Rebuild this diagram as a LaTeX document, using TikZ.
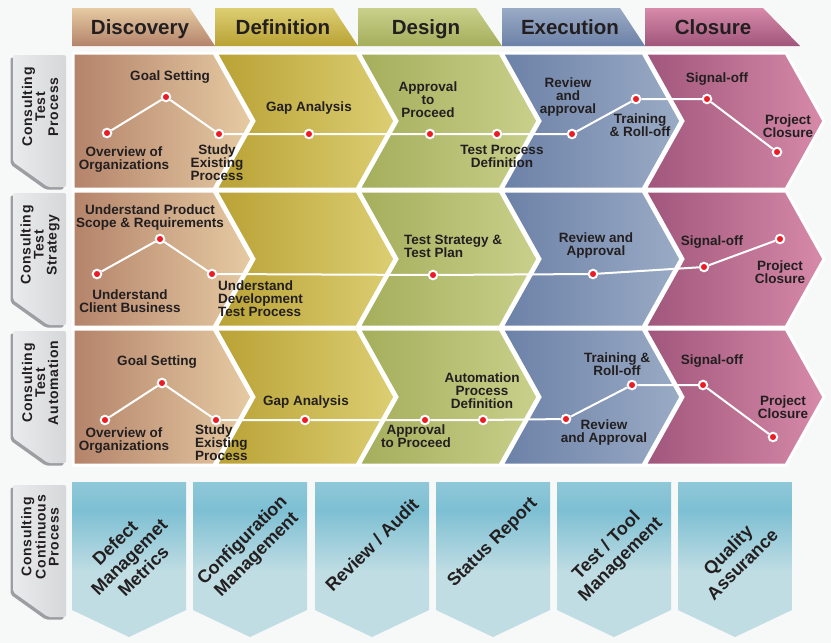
\documentclass[tikz,border=0pt]{standalone}
\usepackage{fontspec}
\setmainfont{Liberation Sans}
\usetikzlibrary{positioning,calc,backgrounds}

\definecolor{pagebg}{HTML}{F7F8F8}
\definecolor{ink}{HTML}{231F20}
\definecolor{dotred}{HTML}{ED1C24}
% phase colours, dark / light
\definecolor{discD}{HTML}{B4836A}
\definecolor{discL}{HTML}{E6CBA3}
\definecolor{defnD}{HTML}{B9A235}
\definecolor{defnL}{HTML}{DCCE72}
\definecolor{desgD}{HTML}{A4AE5B}
\definecolor{desgL}{HTML}{C9D08B}
\definecolor{execD}{HTML}{6C81A7}
\definecolor{execL}{HTML}{9AABC5}
\definecolor{closD}{HTML}{A0567B}
\definecolor{closL}{HTML}{D78AA9}
% side tabs and banners
\definecolor{tabL}{HTML}{EAEBEC}
\definecolor{tabD}{HTML}{D6D7D9}
\definecolor{tabS}{HTML}{9C9EA1}
\definecolor{bnlow}{HTML}{C0DDE3}
\definecolor{bnhigh}{HTML}{7DBFD3}
\definecolor{bntop}{HTML}{8FC8D8}

\pgfdeclareverticalshading{bannershade}{100bp}{color(0bp)=(bnlow); color(46bp)=(bnlow); color(66bp)=(bnhigh); color(75bp)=(bntop); color(100bp)=(bntop)}

\begin{document}
\begin{tikzpicture}[
	x=1pt, y=-1pt,
	phase/.style={
		font=\fontsize{20.5}{22}\selectfont\bfseries,
		text=ink,
		anchor=base,
	},
	chev/.style={
		draw=white,
		line width=3pt,
	},
	sidetab/.style={
		font=\fontsize{14}{13}\selectfont\bfseries\addfontfeatures{LetterSpace=5},
		text=ink,
		rotate=90,
		align=center,
	},
	dot/.style={
		circle,
		fill=dotred,
		draw=white,
		line width=2pt,
		inner sep=0pt,
		minimum size=8.5pt,
	},
	lbl/.style={
		font=\fontsize{13.5}{13}\selectfont\bfseries,
		text=ink,
		align=center,
		inner sep=0pt,
	},
	link/.style={white, line width=2pt},
	banner/.style={
		font=\fontsize{18}{20}\selectfont\bfseries,
		text=ink,
		rotate=45,
		align=center,
	},
]

\fill[pagebg] (0,0) rectangle (831,643);
\useasboundingbox (0,0) rectangle (831,643);

% Phase tabs
\foreach \x/\r/\dk/\lt/\name/\txt in {72/143/discD/discL/disc/Discovery,215/143/defnD/defnL/defn/Definition,358/144/desgD/desgL/desg/Design,502/143/execD/execL/exec/Execution,645/155/closD/closL/clos/Closure}{
	\shade[top color=\lt, bottom color=\dk] (\x,8) -- (\x+118,8) -- (\x+\r,46) -- (\x,46) -- cycle;
	\node[phase] (\name) at (\x+68,34) {\txt};
}

% Chevron rows
\foreach \top in {53,191,329}{
	\foreach \x/\dk/\lt [count=\i] in {73/discD/discL,216/defnD/defnL,359/desgD/desgL,502/execD/execL,645/closD/closL}{
		\pgfmathsetmacro\nd{\i==1 ? 0 : 38}
		\path[chev, left color=\dk, right color=\lt] (\x,\top) -- (\x+141,\top) -- (\x+179,\top+68) -- (\x+141,\top+136) -- (\x,\top+136) -- (\x+\nd,\top+68) -- cycle;
	}
}

% Side tabs
\foreach \top/\txt [count=\i] in {55/{Consulting\\Test\\Process},193/{Consulting\\Test\\Strategy},331/{Consulting\\Test\\Automation},485/{Consulting\\Continuous\\Process}}{
	\fill[tabS, rounded corners=2pt] (10.5,\top+2.5) -- (10.5,\top+109.5) -- (45.5,\top+134.5) -- (63.5,\top+134.5) -- (63.5,\top+2.5) -- cycle;
	\shade[left color=tabL, right color=tabD, rounded corners=2pt] (13,\top) -- (13,\top+107) -- (48,\top+132) -- (66,\top+132) -- (66,\top) -- cycle;
	\node[sidetab] (side\i) at (40,\top+52) {\txt};
}

% Row 1: test process
\node[dot] (tp1) at (107,133) {};
\node[dot] (tp2) at (166,97) {};
\node[dot] (tp3) at (219,134) {};
\node[dot] (tp4) at (309,134) {};
\node[dot] (tp5) at (430,134) {};
\node[dot] (tp6) at (497,134) {};
\node[dot] (tp7) at (572,134) {};
\node[dot] (tp8) at (636,99) {};
\node[dot] (tp9) at (707,99) {};
\node[dot] (tp10) at (777,152) {};
\node[lbl] (tp2t) at (170,77) {Goal Setting};
\node[lbl] (tp1t) at (124,160) {Overview of\\Organizations};
\node[lbl] (tp3t) at (217,163) {Study\\Existing\\Process};
\node[lbl] (tp4t) at (309,108) {Gap Analysis};
\node[lbl] (tp5t) at (428,100) {Approval\\to\\Proceed};
\node[lbl] (tp6t) at (502,156) {Test Process\\Definition};
\node[lbl] (tp7t) at (568,97) {Review\\and\\approval};
\node[lbl] (tp8t) at (640,125) {Training\\\& Roll-off};
\node[lbl] (tp9t) at (717,79) {Signal-off};
\node[lbl] (tp10t) at (788,126) {Project\\Closure};
\draw[link] (tp1) -- (tp2) -- (tp3) -- (tp4) -- (tp5) -- (tp6) -- (tp7) -- (tp8) -- (tp9) -- (tp10);

% Row 2: test strategy
\node[dot] (ts1) at (97,274) {};
\node[dot] (ts2) at (160,239) {};
\node[dot] (ts3) at (212,274) {};
\node[dot] (ts4) at (433,275) {};
\node[dot] (ts5) at (593,274) {};
\node[dot] (ts6) at (704,267) {};
\node[dot] (ts7) at (780,239) {};
\node[lbl] (ts2t) at (150,218) {Understand Product\\Scope \& Requirements};
\node[lbl] (ts1t) at (130,301) {Understand\\Client Business};
\node[lbl, anchor=west, align=left] (ts3t) at (218,299) {Understand\\Development\\Test Process};
\node[lbl, anchor=west, align=left] (ts4t) at (404,246) {Test Strategy \&\\Test Plan};
\node[lbl] (ts5t) at (596,246) {Review and\\Approval};
\node[lbl] (ts6t) at (712,242) {Signal-off};
\node[lbl] (ts7t) at (780,272) {Project\\Closure};
\draw[link] (ts1) -- (ts2) -- (ts3) -- (ts4) -- (ts5) -- (ts6) -- (ts7);

% Row 3: test automation
\node[dot] (ta1) at (105,420) {};
\node[dot] (ta2) at (162,383) {};
\node[dot] (ta3) at (216,420) {};
\node[dot] (ta4) at (305,420) {};
\node[dot] (ta5) at (425,420) {};
\node[dot] (ta6) at (483,420) {};
\node[dot] (ta7) at (566,419) {};
\node[dot] (ta8) at (632,385) {};
\node[dot] (ta9) at (703,385) {};
\node[dot] (ta10) at (773,437) {};
\node[lbl] (ta2t) at (157,362) {Goal Setting};
\node[lbl] (ta1t) at (124,441) {Overview of\\Organizations};
\node[lbl, anchor=west, align=left] (ta3t) at (195,443) {Study\\Existing\\Process};
\node[lbl] (ta4t) at (306,402) {Gap Analysis};
\node[lbl] (ta5t) at (416,436) {Approval\\to Proceed};
\node[lbl] (ta6t) at (482,391) {Automation\\Process\\Definition};
\node[lbl] (ta7t) at (604,433) {Review\\and Approval};
\node[lbl] (ta8t) at (617,364) {Training \&\\Roll-off};
\node[lbl] (ta9t) at (712,361) {Signal-off};
\node[lbl] (ta10t) at (783,407) {Project\\Closure};
\draw[link] (ta1) -- (ta2) -- (ta3) -- (ta4) -- (ta5) -- (ta6) -- (ta7) -- (ta8) -- (ta9) -- (ta10);

% Continuous process banners
\foreach \x/\ty/\txt [count=\i] in {72/557/{Defect\\Managemet\\Metrics},193/548/{Configuration\\Management},315/545/{Review / Audit},436/543/{Status Report},557/553/{Test / Tool\\Management},678/557/{Quality\\Assurance}}{
	\shade[shading=bannershade] (\x,482) -- (\x+114,482) -- (\x+114,610) -- (\x+57,637) -- (\x,610) -- cycle;
	\node[banner] (cp\i) at (\x+57,\ty) {\txt};
}

\end{tikzpicture}
\end{document}
